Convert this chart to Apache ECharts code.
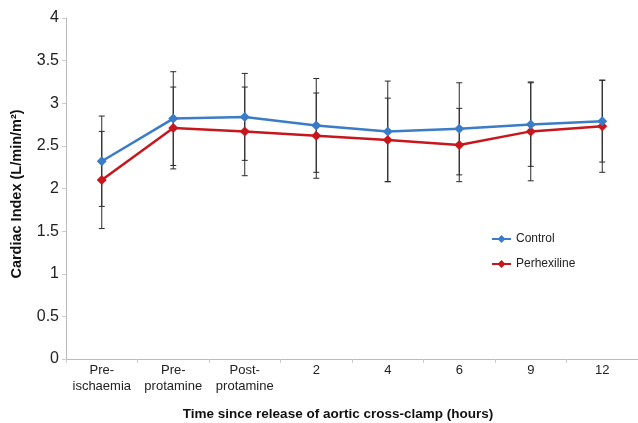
<!DOCTYPE html>
<html>
<head>
<meta charset="utf-8">
<script src="https://cdn.jsdelivr.net/npm/echarts@6/dist/echarts.min.js"></script>
<style>html,body{margin:0;padding:0;background:#fff}#c{width:638px;height:423px}</style>
</head>
<body>
<div id="c"></div>
<script>
var categories = ['Pre-\nischaemia','Pre-\nprotamine','Post-\nprotamine','2','4','6','9','12'];
var yTicks = [0,0.5,1,1.5,2,2.5,3,3.5,4];
var controlMean = [2.32,2.82,2.84,2.74,2.67,2.70,2.75,2.79];
var controlErr  = [0.53,0.55,0.51,0.55,0.59,0.54,0.49,0.48];
var perhexMean  = [2.10,2.71,2.67,2.62,2.57,2.51,2.67,2.73];
var perhexErr   = [0.57,0.48,0.52,0.50,0.49,0.43,0.58,0.54];

function errData(mean, err){
  return mean.map(function(m,i){ return [i, m - err[i], m + err[i]]; });
}
function renderErr(params, api){
  var x = api.value(0);
  var lo = api.coord([x, api.value(1)]);
  var hi = api.coord([x, api.value(2)]);
  var w = 3;
  var st = {stroke:'#2a2a2a', lineWidth:1};
  return {type:'group', children:[
    {type:'line', shape:{x1:hi[0],y1:hi[1],x2:lo[0],y2:lo[1]}, style:st},
    {type:'line', shape:{x1:hi[0]-w,y1:hi[1],x2:hi[0]+w,y2:hi[1]}, style:st},
    {type:'line', shape:{x1:lo[0]-w,y1:lo[1],x2:lo[0]+w,y2:lo[1]}, style:st}
  ]};
}
var chart = echarts.init(document.getElementById('c'), null, {renderer:'canvas'});
chart.setOption({
  animation:false,
  backgroundColor:'#fff',
  grid:{left:66, right:0, top:18, bottom:64, outerBoundsMode:'none', containLabel:false},
  legend:{
    orient:'vertical', left:486, top:228, itemGap:13, itemWidth:19, itemHeight:10,
    textStyle:{fontFamily:'Liberation Sans, Arial', fontSize:12, color:'#222'},
    data:['Control','Perhexiline']
  },
  xAxis:{
    type:'category', data:categories, boundaryGap:true,
    axisLine:{lineStyle:{color:'#bbb', width:1}},
    axisTick:{show:true, length:4, lineStyle:{color:'#ccc'}},
    axisLabel:{color:'#222', fontFamily:'Liberation Sans, Arial', fontSize:13, margin:3, lineHeight:16, interval:0},
    name:'Time since release of aortic cross-clamp (hours)',
    nameLocation:'middle', nameGap:48,
    nameTextStyle:{color:'#111', fontFamily:'Liberation Sans, Arial', fontWeight:'bold', fontSize:13.5, padding:[0,28,0,0]}
  },
  yAxis:{
    type:'value', min:0, max:4, interval:0.5,
    axisLine:{show:true, lineStyle:{color:'#bbb', width:1}},
    axisTick:{show:true, length:4, lineStyle:{color:'#ccc'}},
    splitLine:{show:false},
    axisLabel:{color:'#222', fontFamily:'Liberation Sans, Arial', fontSize:16, margin:7,
      formatter:function(v){ return yTicks.indexOf(v)>=0 ? String(v) : ''; }},
    name:'Cardiac Index (L/min/m²)',
    nameLocation:'middle', nameGap:42, nameRotate:90,
    nameTextStyle:{color:'#111', fontFamily:'Liberation Sans, Arial', fontWeight:'bold', fontSize:14.5, padding:[0,11,0,0]}
  },
  series:[
    {type:'custom', name:'ctrlErr', renderItem:renderErr, data:errData(controlMean,controlErr), z:1, silent:true, encode:{x:0,y:[1,2]}},
    {type:'custom', name:'perErr', renderItem:renderErr, data:errData(perhexMean,perhexErr), z:1, silent:true, encode:{x:0,y:[1,2]}},
    {type:'line', name:'Control', data:controlMean, symbol:'diamond', symbolSize:10,
      lineStyle:{color:'#3b7cc6', width:2.5}, itemStyle:{color:'#3b7cc6'}, z:3},
    {type:'line', name:'Perhexiline', data:perhexMean, symbol:'diamond', symbolSize:10,
      lineStyle:{color:'#c8161d', width:2.5}, itemStyle:{color:'#c8161d'}, z:2}
  ]
});
</script>
</body>
</html>
